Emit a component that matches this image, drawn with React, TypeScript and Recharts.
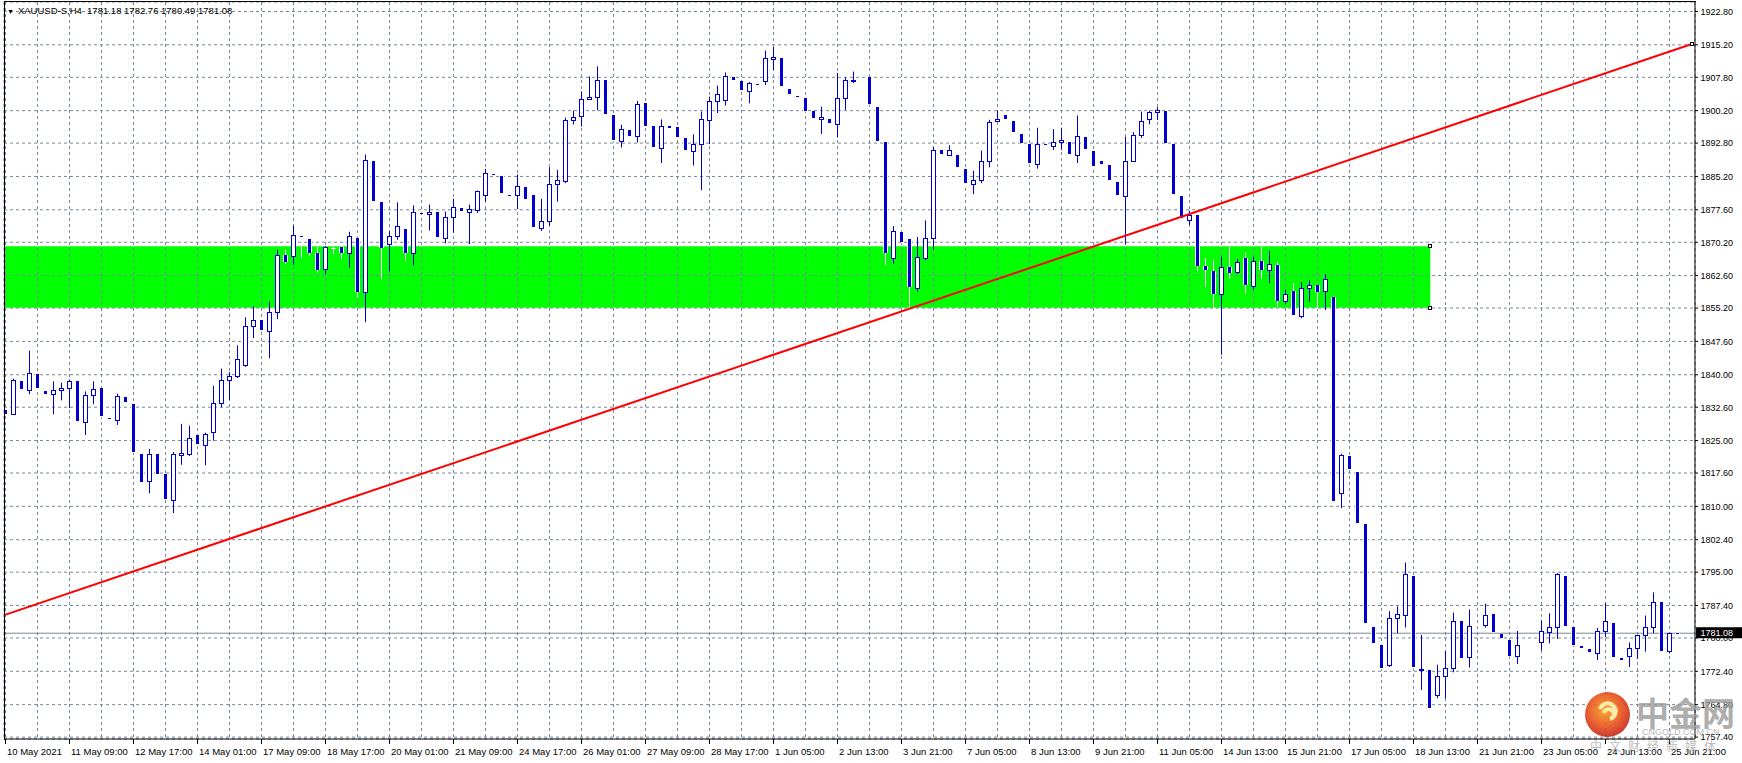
import React from 'react';
import { ComposedChart, Bar, XAxis, YAxis, CartesianGrid, ReferenceArea, ReferenceLine, ReferenceDot } from 'recharts';

// ---- data (XAUUSD H4) ----
const opens = [
  1831.9, 1831.1, 1838.5, 1836.6, 1840.2, 1836.4, 1835.6, 1836.6, 1837.0, 1838.5,
  1829.2, 1835.4, 1837.0, 1830.2, 1829.7, 1835.0, 1833.4, 1822.0, 1815.7, 1822.0,
  1817.3, 1811.5, 1821.8, 1822.0, 1826.3, 1824.0, 1826.9, 1833.6, 1838.8, 1839.7,
  1842.3, 1851.1, 1852.4, 1849.9, 1854.3, 1867.3, 1867.0, 1871.7, 1871.0, 1867.7,
  1864.1, 1868.9, 1869.2, 1867.7, 1871.2, 1858.8, 1888.8, 1879.3, 1869.8, 1871.6,
  1873.3, 1867.8, 1876.95, 1876.6, 1877.0, 1871.2, 1875.9, 1878.1, 1877.0, 1877.6,
  1881.0, 1885.85, 1885.4, 1881.05, 1881.0, 1882.9, 1880.9, 1873.5, 1875.1, 1883.5,
  1884.1, 1898.1, 1898.9, 1902.9, 1903.3, 1907.1, 1899.1, 1893.2, 1895.7, 1894.4,
  1901.9, 1896.6, 1891.7, 1896.6, 1896.4, 1893.9, 1891.0, 1892.6, 1898.1, 1902.4,
  1902.7, 1907.8, 1906.9, 1904.6, 1906.25, 1906.9, 1912.0, 1912.1, 1905.2, 1903.45,
  1903.0, 1900.1, 1898.3, 1898.3, 1897.2, 1903.1, 1906.9, 1907.5, 1907.8, 1901.1,
  1893.0, 1866.6, 1872.6, 1871.0, 1859.7, 1866.6, 1871.2, 1891.3, 1890.1, 1890.2,
  1886.9, 1883.5, 1884.4, 1888.8, 1897.8, 1899.3, 1897.9, 1894.8, 1892.5, 1888.1,
  1892.55, 1892.2, 1893.0, 1893.0, 1890.1, 1894.3, 1891.1, 1888.8, 1887.7, 1884.0,
  1880.7, 1888.7, 1894.6, 1898.3, 1899.9, 1900.2, 1892.5, 1880.8, 1875.3, 1876.5,
  1864.75, 1863.6, 1858.3, 1864.5, 1863.4, 1866.6, 1860.2, 1866.0, 1863.9, 1865.1,
  1856.7, 1859.1, 1853.5, 1859.8, 1860.5, 1859.1, 1857.8, 1813.0, 1821.5, 1817.9,
  1805.9, 1782.6, 1778.5, 1773.9, 1784.6, 1785.3, 1794.2, 1772.9, 1772.7, 1766.9,
  1771.4, 1773.2, 1783.8, 1775.6, 1782.9, 1783.0, 1785.4, 1780.9, 1779.6, 1775.9,
  1778.6, 1778.8, 1779.0, 1781.3, 1782.5, 1794.2, 1782.6, 1778.2, 1777.4, 1776.5,
  1781.6, 1783.5, 1775.5, 1775.9, 1777.8, 1780.7, 1782.5, 1788.1, 1777.0, 1781.18,
];
const highs = [
  1831.9, 1839.1, 1838.5, 1845.5, 1840.2, 1836.4, 1838.5, 1838.2, 1838.9, 1838.5,
  1836.2, 1838.5, 1837.0, 1830.2, 1835.7, 1835.0, 1833.4, 1822.0, 1823.1, 1822.0,
  1817.3, 1822.4, 1828.8, 1828.4, 1826.3, 1826.8, 1837.5, 1841.4, 1840.6, 1846.7,
  1853.1, 1855.6, 1852.4, 1856.7, 1868.5, 1868.5, 1874.0, 1871.7, 1871.0, 1869.2,
  1869.3, 1869.2, 1869.3, 1872.6, 1871.2, 1890.2, 1888.8, 1879.3, 1872.7, 1879.3,
  1873.3, 1878.6, 1876.95, 1878.8, 1877.0, 1877.2, 1880.1, 1878.1, 1878.8, 1882.0,
  1886.9, 1885.85, 1885.4, 1881.05, 1885.65, 1882.9, 1880.9, 1880.1, 1887.3, 1886.7,
  1898.6, 1900.2, 1904.6, 1908.0, 1910.3, 1907.1, 1899.1, 1897.0, 1895.7, 1902.4,
  1901.9, 1896.6, 1898.2, 1896.6, 1896.4, 1893.9, 1894.8, 1900.0, 1903.4, 1905.9,
  1908.9, 1907.8, 1906.9, 1906.7, 1906.25, 1913.9, 1914.7, 1912.1, 1905.2, 1903.45,
  1903.0, 1900.1, 1901.1, 1898.3, 1908.8, 1907.8, 1909.1, 1907.5, 1907.8, 1901.1,
  1893.0, 1873.9, 1872.6, 1871.0, 1871.4, 1875.2, 1891.9, 1891.3, 1892.3, 1890.2,
  1886.9, 1886.5, 1891.1, 1898.1, 1900.2, 1899.3, 1897.9, 1894.8, 1892.5, 1896.3,
  1892.55, 1896.0, 1896.3, 1893.0, 1899.1, 1894.3, 1891.1, 1888.8, 1887.7, 1884.0,
  1894.2, 1895.3, 1900.0, 1900.2, 1901.0, 1900.2, 1892.5, 1880.8, 1877.4, 1876.5,
  1866.6, 1866.2, 1866.9, 1869.2, 1866.4, 1867.8, 1866.9, 1869.2, 1868.3, 1865.7,
  1859.4, 1860.9, 1861.1, 1861.6, 1860.5, 1862.9, 1857.8, 1822.0, 1821.5, 1817.9,
  1805.9, 1782.6, 1778.5, 1786.1, 1787.2, 1797.2, 1794.2, 1780.7, 1772.7, 1773.9,
  1777.0, 1785.8, 1783.8, 1786.5, 1782.9, 1787.8, 1785.4, 1780.9, 1779.6, 1781.6,
  1778.6, 1778.8, 1784.0, 1785.6, 1794.8, 1794.2, 1782.6, 1778.2, 1777.4, 1782.3,
  1788.0, 1783.5, 1775.5, 1779.0, 1780.7, 1785.1, 1790.4, 1788.1, 1781.2, 1782.76,
];
const lows = [
  1831.0, 1831.1, 1836.7, 1835.8, 1836.9, 1835.6, 1831.2, 1834.4, 1832.6, 1829.4,
  1826.5, 1833.5, 1830.5, 1830.1, 1828.8, 1833.8, 1822.4, 1815.5, 1813.2, 1817.3,
  1811.7, 1808.7, 1819.7, 1821.7, 1824.3, 1819.6, 1825.2, 1832.8, 1834.5, 1839.5,
  1842.0, 1848.6, 1850.1, 1844.0, 1852.9, 1865.5, 1865.3, 1866.8, 1867.3, 1863.5,
  1863.1, 1867.7, 1866.6, 1864.5, 1857.8, 1852.2, 1879.6, 1862.0, 1863.8, 1871.0,
  1866.2, 1865.1, 1876.85, 1873.1, 1871.4, 1870.2, 1872.6, 1877.3, 1870.0, 1877.1,
  1879.7, 1885.75, 1881.4, 1880.95, 1878.0, 1880.0, 1873.6, 1873.0, 1874.2, 1879.7,
  1883.9, 1897.3, 1896.8, 1902.9, 1900.5, 1899.5, 1893.4, 1892.0, 1894.5, 1893.2,
  1896.6, 1892.0, 1888.5, 1896.2, 1894.2, 1891.3, 1887.9, 1882.3, 1892.8, 1899.9,
  1901.6, 1907.1, 1904.8, 1902.1, 1906.15, 1906.3, 1909.7, 1905.8, 1903.9, 1903.35,
  1900.2, 1898.5, 1895.1, 1897.3, 1894.3, 1900.6, 1906.7, 1907.5, 1901.8, 1893.2,
  1865.3, 1865.5, 1870.2, 1855.6, 1859.2, 1866.3, 1868.7, 1890.4, 1890.1, 1887.3,
  1883.4, 1881.4, 1883.9, 1887.5, 1897.8, 1898.3, 1895.3, 1892.8, 1888.2, 1887.2,
  1892.45, 1891.5, 1891.5, 1890.4, 1888.5, 1891.4, 1887.5, 1888.1, 1884.4, 1880.9,
  1870.0, 1888.7, 1894.2, 1897.3, 1898.3, 1892.8, 1881.1, 1875.8, 1874.4, 1863.8,
  1860.3, 1855.2, 1844.8, 1862.2, 1863.2, 1858.6, 1859.6, 1862.2, 1861.1, 1855.6,
  1856.3, 1853.7, 1853.1, 1856.9, 1855.2, 1855.0, 1811.2, 1809.8, 1818.5, 1806.2,
  1783.4, 1778.8, 1773.1, 1773.6, 1781.3, 1782.6, 1773.3, 1768.4, 1764.1, 1766.5,
  1766.5, 1772.4, 1775.5, 1773.5, 1782.9, 1782.6, 1781.3, 1779.9, 1776.0, 1774.3,
  1778.6, 1778.8, 1777.4, 1779.0, 1780.0, 1782.8, 1778.5, 1777.8, 1776.8, 1775.2,
  1780.4, 1775.6, 1775.0, 1773.6, 1775.5, 1777.1, 1781.3, 1777.1, 1776.7, 1780.49,
];
const closes = [
  1831.0, 1838.7, 1836.7, 1840.4, 1836.9, 1835.6, 1836.6, 1837.0, 1838.5, 1829.4,
  1835.4, 1836.8, 1830.5, 1830.1, 1835.2, 1833.8, 1822.4, 1815.5, 1822.0, 1817.3,
  1811.7, 1822.0, 1822.2, 1825.6, 1824.3, 1826.5, 1833.6, 1838.8, 1839.8, 1843.6,
  1851.2, 1852.5, 1850.1, 1854.4, 1867.3, 1865.7, 1871.9, 1871.4, 1867.8, 1863.9,
  1869.2, 1868.9, 1867.7, 1871.7, 1858.8, 1889.0, 1879.6, 1868.9, 1871.7, 1873.8,
  1867.8, 1877.2, 1876.85, 1877.0, 1871.4, 1876.0, 1878.3, 1877.3, 1877.7, 1881.8,
  1886.0, 1885.75, 1881.4, 1880.95, 1883.1, 1880.0, 1873.6, 1875.1, 1883.5, 1884.4,
  1898.1, 1898.8, 1902.9, 1903.4, 1907.2, 1899.5, 1893.4, 1896.0, 1894.5, 1901.8,
  1896.6, 1892.0, 1896.7, 1896.2, 1894.2, 1891.3, 1892.6, 1898.3, 1902.3, 1903.9,
  1908.0, 1907.1, 1904.8, 1906.5, 1906.15, 1912.1, 1912.5, 1905.8, 1903.9, 1903.35,
  1900.2, 1898.5, 1898.7, 1897.3, 1903.1, 1907.1, 1907.3, 1907.5, 1901.8, 1893.2,
  1867.7, 1872.8, 1870.2, 1859.9, 1866.9, 1871.2, 1891.3, 1890.4, 1891.3, 1887.3,
  1883.7, 1884.4, 1888.8, 1897.7, 1898.2, 1898.3, 1895.3, 1892.8, 1888.2, 1892.6,
  1892.45, 1893.1, 1893.4, 1890.4, 1894.5, 1891.4, 1887.5, 1888.1, 1884.4, 1880.9,
  1888.8, 1894.7, 1897.9, 1899.9, 1900.4, 1892.8, 1881.1, 1875.8, 1876.3, 1864.9,
  1863.8, 1858.3, 1864.5, 1863.2, 1865.7, 1860.5, 1865.9, 1863.9, 1865.3, 1856.7,
  1858.4, 1853.7, 1859.8, 1860.5, 1858.8, 1861.9, 1811.2, 1821.7, 1818.5, 1806.2,
  1783.4, 1778.8, 1773.1, 1784.6, 1785.4, 1794.5, 1773.3, 1773.0, 1764.1, 1771.4,
  1773.2, 1783.9, 1775.5, 1782.8, 1782.9, 1785.3, 1781.3, 1779.9, 1776.0, 1778.4,
  1778.6, 1778.8, 1781.5, 1782.6, 1794.5, 1782.8, 1778.5, 1777.8, 1776.8, 1781.7,
  1783.8, 1775.6, 1775.0, 1777.8, 1780.7, 1782.6, 1788.3, 1777.1, 1781.2, 1781.08,
];

// time labels, one every 8 bars
const timeLabels = [
  '10 May 2021', '11 May 09:00', '12 May 17:00', '14 May 01:00', '17 May 09:00', '18 May 17:00',
  '20 May 01:00', '21 May 09:00', '24 May 17:00', '26 May 01:00', '27 May 09:00', '28 May 17:00',
  '1 Jun 05:00', '2 Jun 13:00', '3 Jun 21:00', '7 Jun 05:00', '8 Jun 13:00', '9 Jun 21:00',
  '11 Jun 05:00', '14 Jun 13:00', '15 Jun 21:00', '17 Jun 05:00', '18 Jun 13:00', '21 Jun 21:00',
  '23 Jun 05:00', '24 Jun 13:00', '25 Jun 21:00',
];
const LABEL_EVERY = 8;
const GRID_EVERY = 4;

const priceTicks = [
  1922.8, 1915.2, 1907.8, 1900.2, 1892.8, 1885.2, 1877.6, 1870.2, 1862.6, 1855.2, 1847.6, 1840.0,
  1832.6, 1825.0, 1817.6, 1810.0, 1802.4, 1795.0, 1787.4, 1780.0, 1772.4, 1764.8, 1757.4,
];
const priceDomain = [1756.97, 1924.966];
const barDomain = [-0.1875, 211.1875];

const symbolName = 'XAUUSD-S,H4';
const currentPrice = 1781.08;

// green zone (rectangle object)
const zoneTop = 1869.3;
const zoneBottom = 1855.3;
const zoneStartBar = -5;
const zoneEndBar = 178.1;

// red trend line
const trendStart = { bar: -0.17, price: 1785.2 };
const trendEnd = { bar: 210.8, price: 1915.4 };

const candles = opens.map((o, i) => ({
  i,
  open: o,
  high: highs[i],
  low: lows[i],
  close: closes[i],
  range: [lows[i], highs[i]],
}));

const gridTicks: number[] = [];
for (let k = 0; k <= (timeLabels.length - 1) * LABEL_EVERY; k += GRID_EVERY) gridTicks.push(k);

const BLUE = '#0000cd';
const GRID = '#778899';
const FONT = '"Liberation Sans", Arial, sans-serif';

function Candle(props: any) {
  const { x, y, width, height, payload } = props;
  if (!payload || x == null || y == null) return <g />;
  const { open, high, low, close } = payload;
  const cx = Math.floor(x + width / 2) + 0.5;
  const top = Math.min(y, y + height);
  const bot = Math.max(y, y + height);
  const span = high - low;
  const py = (p: number) => (span > 0 ? top + ((high - p) / span) * (bot - top) : top);
  const yH = py(high);
  const yL = py(low);
  const yT = Math.round(py(Math.max(open, close)));
  const yB = Math.round(py(Math.min(open, close)));
  const bh = Math.max(yB - yT, 1);
  if (close === open) {
    return (
      <g>
        <line x1={cx} x2={cx} y1={yH} y2={yL + 1} stroke="#fff" strokeWidth={1} />
        <rect x={cx - 2.5} y={yT} width={5} height={1} fill="#fff" />
      </g>
    );
  }
  if (close > open) {
    return (
      <g>
        <line x1={cx} x2={cx} y1={yH} y2={yL + 1} stroke={BLUE} strokeWidth={1} />
        <rect x={cx - 2} y={yT + 0.5} width={4} height={bh} fill="#fff" stroke={BLUE} strokeWidth={1} />
      </g>
    );
  }
  return (
    <g>
      <line x1={cx} x2={cx} y1={yH} y2={yL + 1} stroke="#fff" strokeWidth={1} />
      <line x1={cx - 2} x2={cx - 2} y1={yT} y2={yT + bh} stroke="#fff" strokeWidth={1} />
      <line x1={cx + 2} x2={cx + 2} y1={yT} y2={yT + bh} stroke="#fff" strokeWidth={1} />
      <rect x={cx - 1.5} y={yT} width={3} height={bh} fill={BLUE} />
    </g>
  );
}

function TimeTick(props: any) {
  const { x, y, payload } = props;
  const v = payload?.value;
  if (v == null || v % LABEL_EVERY !== 0) return <g />;
  const label = timeLabels[v / LABEL_EVERY];
  if (!label) return <g />;
  const tx = Math.floor(x) + 0.5;
  return (
    <g>
      <line x1={tx} x2={tx} y1={y} y2={y + 5} stroke="#000" strokeWidth={1} />
      <text x={tx + 1.5} y={y + 15.5} fontSize={9.5} fontFamily={FONT} fill="#000" textAnchor="start">
        {label}
      </text>
    </g>
  );
}

function PriceTick(props: any) {
  const { x, y, payload } = props;
  const v = payload?.value;
  if (v == null) return <g />;
  return (
    <g>
      <line x1={x} x2={x + 3} y1={y} y2={y} stroke="#000" strokeWidth={1} />
      <text x={x + 5.5} y={y + 3.3} fontSize={9} fontFamily={FONT} fill="#000" textAnchor="start">
        {Number(v).toFixed(2)}
      </text>
    </g>
  );
}

function PriceTag(props: any) {
  const vb = props.viewBox || {};
  const x = (vb.x ?? 0) + (vb.width ?? 0);
  const y = vb.y ?? 0;
  return (
    <g>
      <rect x={x + 1} y={y - 6} width={48} height={11} fill="#000" />
      <text x={x + 5.5} y={y + 3} fontSize={9} fontFamily={FONT} fill="#fff" textAnchor="start">
        {currentPrice.toFixed(2)}
      </text>
    </g>
  );
}

function Anchor(props: any) {
  const { cx, cy } = props;
  if (cx == null || cy == null) return <g />;
  const px = Math.round(cx) - 1.5;
  const py = Math.round(cy) - 1.5;
  return <rect x={px} y={py} width={3} height={3} fill="#fff" stroke="#000" strokeWidth={1} />;
}

const last = opens.length - 1;
const titleText = `${symbolName}  ${opens[last].toFixed(2)} ${highs[last].toFixed(2)} ${lows[last].toFixed(2)} ${closes[last].toFixed(2)}`;

export default function App() {
  return (
    <div style={{ position: 'absolute', left: 0, top: 0, width: 1742, height: 763, background: '#fff', overflow: 'hidden' }}>
      <ComposedChart width={1742} height={763} data={candles} margin={{ top: 2, right: 0, bottom: 0, left: 4 }}>
        <ReferenceArea
          x1={zoneStartBar}
          x2={zoneEndBar}
          y1={zoneBottom}
          y2={zoneTop}
          fill="#00ff00"
          fillOpacity={1}
          stroke="none"
          ifOverflow="hidden"
          zIndex={-150}
        />
        <CartesianGrid stroke={GRID} strokeDasharray="3 3" horizontal vertical zIndex={-100} />
        <ReferenceLine y={currentPrice} stroke={GRID} strokeWidth={1} zIndex={-50} />
        <XAxis
          type="number"
          dataKey="i"
          domain={barDomain}
          allowDataOverflow
          ticks={gridTicks}
          interval={0}
          tick={<TimeTick />}
          tickLine={false}
          tickSize={0}
          tickMargin={0}
          axisLine={{ stroke: '#000' }}
          height={24}
        />
        <YAxis
          type="number"
          orientation="right"
          domain={priceDomain}
          allowDataOverflow
          ticks={priceTicks}
          interval={0}
          tick={<PriceTick />}
          tickLine={false}
          tickSize={0}
          tickMargin={0}
          axisLine={{ stroke: '#000' }}
          width={47}
        />
        <Bar dataKey="range" barSize={8} shape={<Candle />} isAnimationActive={false} />
        <ReferenceLine
          segment={[
            { x: trendStart.bar, y: trendStart.price },
            { x: trendEnd.bar, y: trendEnd.price },
          ]}
          stroke="#ff0000"
          strokeWidth={2}
          zIndex={450}
        />
        <ReferenceDot x={trendEnd.bar} y={trendEnd.price} shape={<Anchor />} zIndex={460} />
        <ReferenceDot x={zoneEndBar} y={zoneTop} shape={<Anchor />} zIndex={460} />
        <ReferenceDot x={zoneEndBar} y={zoneBottom} shape={<Anchor />} zIndex={460} />
        <ReferenceLine y={currentPrice} stroke="none" strokeWidth={0} label={<PriceTag />} zIndex={2500} />
      </ComposedChart>
      <div
        style={{
          position: 'absolute', left: 4, top: 1, width: 1691, height: 738,
          borderLeft: '1px solid #000', borderTop: '1px solid #000', pointerEvents: 'none',
        }}
      />
      <div
        style={{
          position: 'absolute', left: 7, top: 5, fontFamily: FONT, fontSize: 9.5, color: '#000',
          whiteSpace: 'pre', lineHeight: '12px',
        }}
      >
        <span style={{ fontSize: 7, marginRight: 4 }}>▼</span>
        {titleText}
      </div>
      <svg width={1742} height={763} style={{ position: 'absolute', left: 0, top: 0, pointerEvents: 'none' }}>
        <defs>
          <radialGradient id="wmg" cx="0.45" cy="0.4" r="0.6">
            <stop offset="0" stopColor="#f6a21a" />
            <stop offset="0.6" stopColor="#e8541e" />
            <stop offset="1" stopColor="#c8281a" />
          </radialGradient>
        </defs>
        <g opacity={0.9}>
          <circle cx={1607.5} cy={714.5} r={22.5} fill="url(#wmg)" />
          <path d="M1600 709 a8 8 0 1 1 10 10 a5 5 0 1 0 -6 -6" fill="none" stroke="#fde9a0" strokeWidth={4} />
        </g>
        <text x={1636} y={726} fontSize={33} fontWeight="bold" fontFamily='"Noto Sans CJK SC", sans-serif' fill="#9a9a9a" opacity={0.8}>
          中金网
        </text>
        <text x={1642} y={735} fontSize={9} fontFamily={FONT} fill="#a8a8a8" opacity={0.8}>
          CNGOLD.COM.CN
        </text>
        <text x={1590} y={751} fontSize={12} letterSpacing={7} fontFamily='"Noto Sans CJK SC", sans-serif' fill="#a0a0a0" opacity={0.7}>
          中文财经新媒体
        </text>
      </svg>
    </div>
  );
}
